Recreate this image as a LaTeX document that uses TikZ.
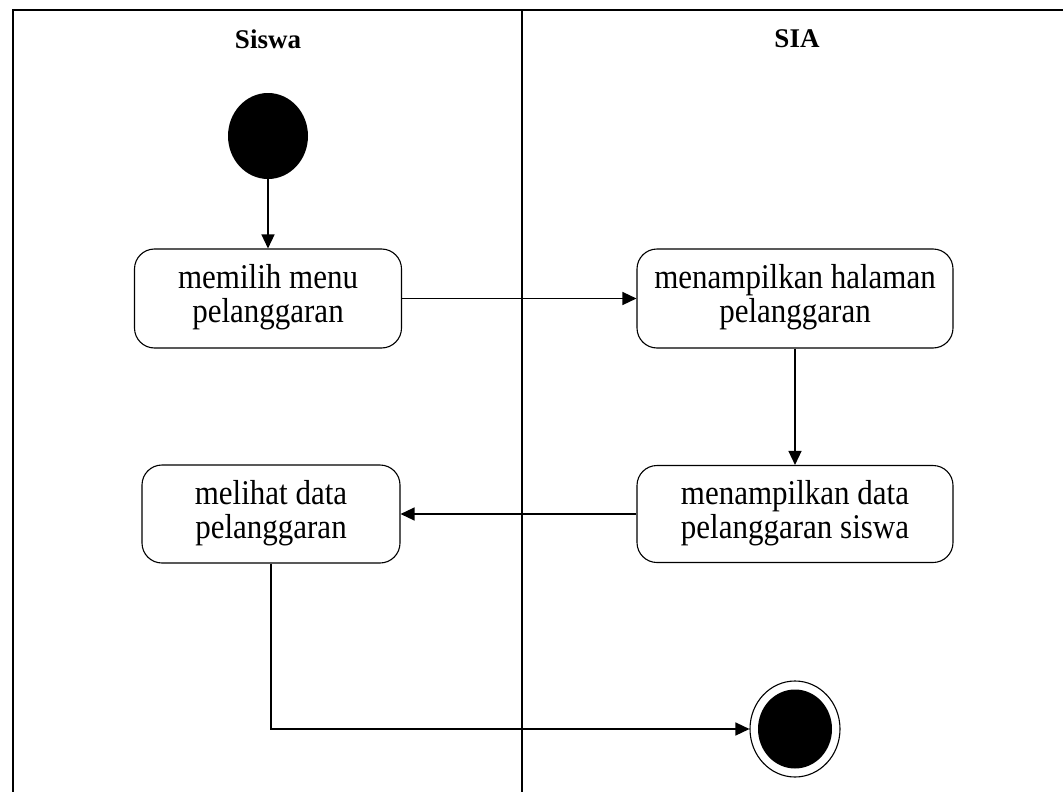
\documentclass[tikz,border=0pt]{standalone}
\usepackage{graphicx}
\usepackage{fontspec}
\setmainfont{Liberation Serif}
\usetikzlibrary{arrows.meta,shapes.geometric}
\newcommand\acttext[1]{\scalebox{1}[1.12]{\fontsize{31}{29}\selectfont\begin{tabular}{@{}c@{}}#1\end{tabular}}}
\begin{document}
\begin{tikzpicture}[x=1pt,y=-1pt,
  lane/.style={line width=1.2pt},
  act/.style={draw, line width=1.1pt, rounded corners=20pt, align=center, inner sep=0pt},
  flow/.style={line width=1.4pt, -{Triangle[length=14pt,width=13pt]}},
  lanetitle/.style={font=\fontsize{27}{32}\selectfont\bfseries}]
\useasboundingbox (0,0) rectangle (1063,792);
% swimlanes
\draw[lane] (13,792) -- (13,10) -- (1063,10);
\draw[lane] (522,10) -- (522,792);
\node[lanetitle] (siswa) at (268,39) {Siswa};
\node[lanetitle] (sia) at (797,39) {SIA};
% nodes
\node[ellipse, fill=black, minimum width=80pt, minimum height=86pt, inner sep=0pt] (start) at (268,136) {};
\node[act, minimum width=267pt, minimum height=99pt] (b1) at (268,298.5) {\acttext{memilih menu\\pelanggaran}};
\node[act, minimum width=316pt, minimum height=99pt] (b2) at (795,298.5) {\acttext{menampilkan halaman\\pelanggaran}};
\node[act, minimum width=316pt, minimum height=97pt] (b3) at (795,514) {\acttext{menampilkan data\\pelanggaran siswa}};
\node[act, minimum width=258pt, minimum height=98pt] (b4) at (271,514) {\acttext{melihat data\\pelanggaran}};
\node[ellipse, draw, line width=1.1pt, minimum width=90pt, minimum height=96pt, inner sep=0pt] (end) at (795,729) {};
\node[ellipse, fill=black, minimum width=74pt, minimum height=79pt, inner sep=0pt] (endin) at (end.center) {};
% flows
\draw[flow] (start) -- (b1);
\draw[flow] (b1) -- (b2);
\draw[flow] (b2) -- (b3);
\draw[flow] (b3) -- (b4);
\draw[flow] (b4.south) |- (end.west);
\end{tikzpicture}
\end{document}
